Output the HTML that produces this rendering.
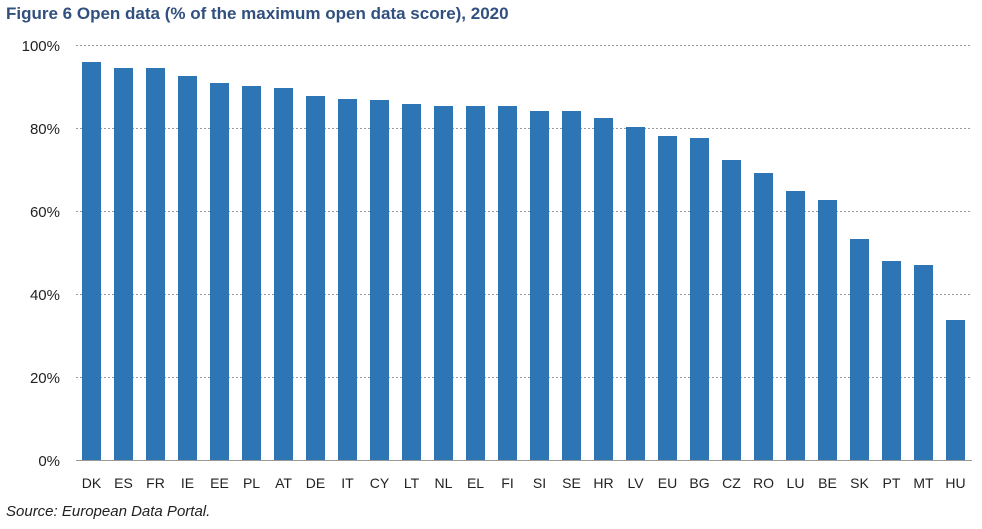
<!DOCTYPE html><html><head><style>body{margin:0;background:#fff;width:982px;height:524px;overflow:hidden;font-family:"Liberation Sans",sans-serif}</style></head><body>
<svg width="982" height="524" xmlns="http://www.w3.org/2000/svg">
<text x="6" y="19" font-size="17" font-weight="bold" fill="#31507f" font-family="Liberation Sans">Figure 6 Open data (% of the maximum open data score), 2020</text>
<g stroke="#999" stroke-dasharray="2,2" stroke-width="1">
<line x1="76" x2="972" y1="45.5" y2="45.5"/><line x1="76" x2="972" y1="128.5" y2="128.5"/><line x1="76" x2="972" y1="211.5" y2="211.5"/><line x1="76" x2="972" y1="294.5" y2="294.5"/><line x1="76" x2="972" y1="377.5" y2="377.5"/></g>
<g font-size="15" fill="#222" text-anchor="end"><text x="60" y="51">100%</text><text x="60" y="134">80%</text><text x="60" y="217">60%</text><text x="60" y="300">40%</text><text x="60" y="383">20%</text><text x="60" y="466">0%</text></g>
<g fill="#2e75b6">
<rect x="82" y="62" width="19" height="398"/>
<rect x="114" y="68" width="19" height="392"/>
<rect x="146" y="68" width="19" height="392"/>
<rect x="178" y="76" width="19" height="384"/>
<rect x="210" y="83" width="19" height="377"/>
<rect x="242" y="86" width="19" height="374"/>
<rect x="274" y="88" width="19" height="372"/>
<rect x="306" y="96" width="19" height="364"/>
<rect x="338" y="99" width="19" height="361"/>
<rect x="370" y="100" width="19" height="360"/>
<rect x="402" y="104" width="19" height="356"/>
<rect x="434" y="106" width="19" height="354"/>
<rect x="466" y="106" width="19" height="354"/>
<rect x="498" y="106" width="19" height="354"/>
<rect x="530" y="111" width="19" height="349"/>
<rect x="562" y="111" width="19" height="349"/>
<rect x="594" y="118" width="19" height="342"/>
<rect x="626" y="127" width="19" height="333"/>
<rect x="658" y="136" width="19" height="324"/>
<rect x="690" y="138" width="19" height="322"/>
<rect x="722" y="160" width="19" height="300"/>
<rect x="754" y="173" width="19" height="287"/>
<rect x="786" y="191" width="19" height="269"/>
<rect x="818" y="200" width="19" height="260"/>
<rect x="850" y="239" width="19" height="221"/>
<rect x="882" y="261" width="19" height="199"/>
<rect x="914" y="265" width="19" height="195"/>
<rect x="946" y="320" width="19" height="140"/>
</g>
<line x1="76" x2="972" y1="460.5" y2="460.5" stroke="#999"/>
<g font-size="14" fill="#222" text-anchor="middle">
<text x="91.5" y="488">DK</text><text x="123.5" y="488">ES</text><text x="155.5" y="488">FR</text><text x="187.5" y="488">IE</text><text x="219.5" y="488">EE</text><text x="251.5" y="488">PL</text><text x="283.5" y="488">AT</text><text x="315.5" y="488">DE</text><text x="347.5" y="488">IT</text><text x="379.5" y="488">CY</text><text x="411.5" y="488">LT</text><text x="443.5" y="488">NL</text><text x="475.5" y="488">EL</text><text x="507.5" y="488">FI</text><text x="539.5" y="488">SI</text><text x="571.5" y="488">SE</text><text x="603.5" y="488">HR</text><text x="635.5" y="488">LV</text><text x="667.5" y="488">EU</text><text x="699.5" y="488">BG</text><text x="731.5" y="488">CZ</text><text x="763.5" y="488">RO</text><text x="795.5" y="488">LU</text><text x="827.5" y="488">BE</text><text x="859.5" y="488">SK</text><text x="891.5" y="488">PT</text><text x="923.5" y="488">MT</text><text x="955.5" y="488">HU</text>
</g>
<text x="6" y="516" font-size="15" font-style="italic" fill="#222">Source: European Data Portal.</text>
</svg></body></html>
